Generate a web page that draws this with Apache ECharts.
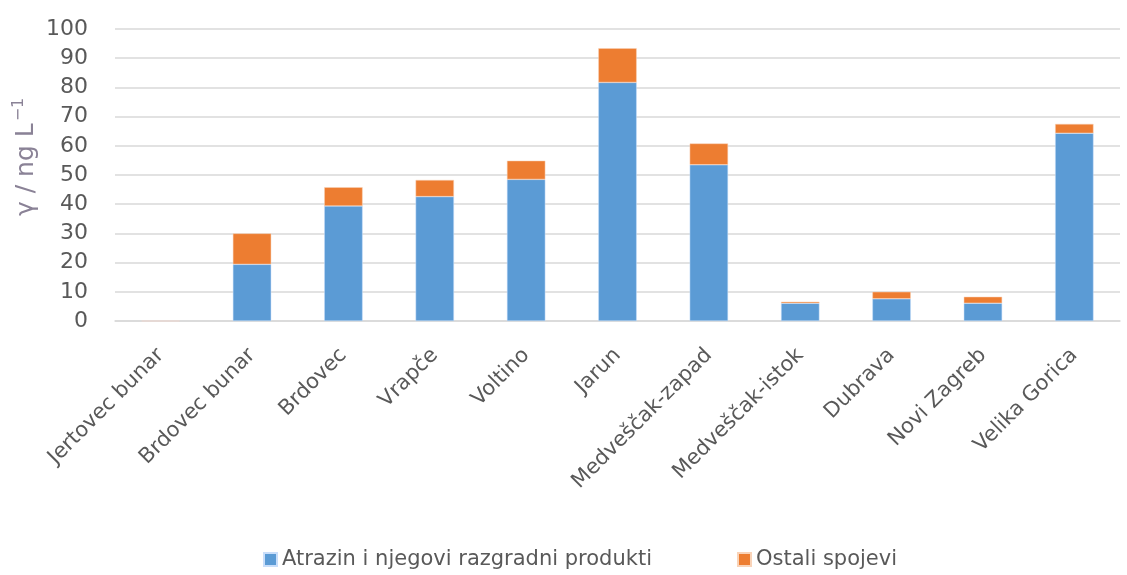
<!DOCTYPE html>
<html style="height: 100%">
   <head>
       <meta charset="utf-8">
   </head>
   <body style="height: 100%; margin: 0; background: #fff">
       <div id="container" style="width: 1127px; height: 575px"></div>
       <script type="text/javascript" src="https://cdn.jsdelivr.net/npm/echarts@6/dist/echarts.min.js"></script>
       <script type="text/javascript">
// lokacije uzorkovanja
var locations = ['Jertovec bunar', 'Brdovec bunar', 'Brdovec', 'Vrapče', 'Voltino', 'Jarun',
  'Medveščak-zapad', 'Medveščak-istok', 'Dubrava', 'Novi Zagreb', 'Velika Gorica'];
// atrazin i razgradni produkti (ng/L)
var atrazin = [0, 19.4, 39.4, 42.6, 48.5, 81.7, 53.5, 6.1, 7.6, 6.1, 64.3];
// ostali spojevi (ng/L)
var ostali = [0, 10.6, 6.4, 5.7, 6.4, 11.7, 7.3, 0.5, 2.4, 2.2, 3.2];

var dom = document.getElementById("container");
var myChart = echarts.init(dom);
var font = 'DejaVu Sans';

option = {
    animation: false,
    grid: {
        left: 115,
        right: 7,
        top: 29,
        bottom: 254
    },
    legend: {
        top: 544,
        left: 258,
        itemWidth: 13,
        itemHeight: 13,
        itemGap: 85,
        itemTextGap: 8,
        icon: 'rect',
        textStyle: { color: '#595959', fontSize: 21, fontFamily: font },
        data: ['Atrazin i njegovi razgradni produkti', 'Ostali spojevi']
    },
    graphic: [{
        type: 'text',
        x: 11,
        y: 216,
        rotation: Math.PI / 2,
        style: {
            text: '{a|γ / ng L}{s|−1}',
            rich: {
                a: { fontSize: 25, fill: '#8a8296', fontFamily: font },
                s: { fontSize: 16, fill: '#8a8296', fontFamily: font, verticalAlign: 'top', padding: [0, 0, 14, 2] }
            }
        }
    }],
    xAxis: {
        type: 'category',
        data: locations,
        axisTick: { show: false },
        axisLine: { lineStyle: { color: '#d9d9d9', width: 1.5 } },
        axisLabel: {
            rotate: 45,
            interval: 0,
            margin: 31,
            color: '#595959',
            fontSize: 21,
            fontFamily: font
        }
    },
    yAxis: {
        type: 'value',
        min: 0,
        max: 100,
        interval: 10,
        axisLine: { show: false },
        axisTick: { show: false },
        splitLine: { lineStyle: { color: '#d9d9d9', width: 1.5 } },
        axisLabel: {
            margin: 27,
            color: '#595959',
            fontSize: 22,
            fontFamily: font
        }
    },
    series: [
        {
            name: 'Atrazin i njegovi razgradni produkti',
            type: 'bar',
            stack: 'uk',
            barWidth: '42%',
            itemStyle: { color: '#5b9bd5', borderColor: '#c9defa', borderWidth: 0.5 },
            data: atrazin
        },
        {
            name: 'Ostali spojevi',
            type: 'bar',
            stack: 'uk',
            itemStyle: { color: '#ed7d31', borderColor: '#f9d3b8', borderWidth: 0.5 },
            data: ostali
        }
    ]
};
myChart.setOption(option, true);
       </script>
   </body>
</html>
